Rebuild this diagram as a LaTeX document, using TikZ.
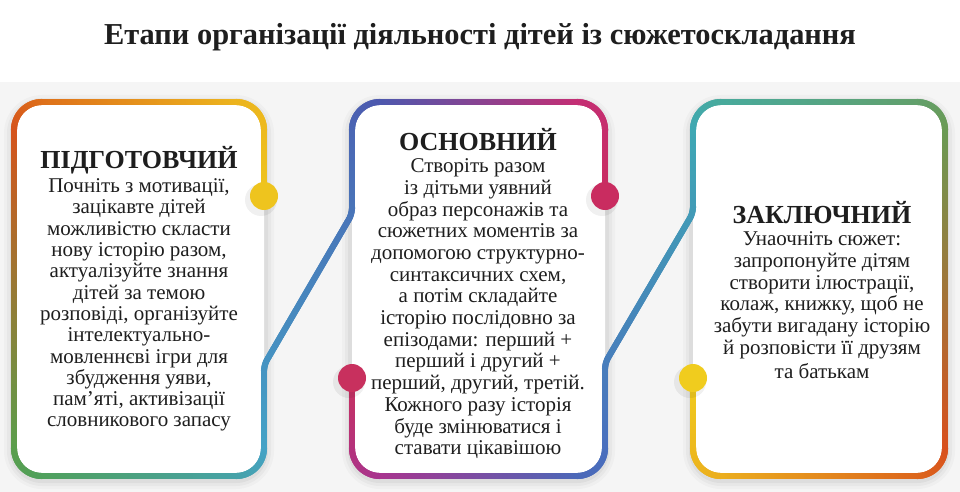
\documentclass[tikz,border=0pt]{standalone}
\usepackage{fontspec}
\setmainfont{Liberation Serif}
\usepackage{graphicx}
\usetikzlibrary{decorations.markings}
% colours along the two strokes
\definecolor{yelA}{HTML}{EEC41E}
\definecolor{yelB}{HTML}{ECB41E}
\definecolor{oraA}{HTML}{DE701A}
\definecolor{redA}{HTML}{D5541C}
\definecolor{grnA}{HTML}{5A9E4C}
\definecolor{grnB}{HTML}{50A05C}
\definecolor{tealA}{HTML}{46A2A8}
\definecolor{tealB}{HTML}{45A2C6}
\definecolor{bluB}{HTML}{4A66B4}
\definecolor{bluC}{HTML}{4D58AE}
\definecolor{crmA}{HTML}{C42E74}
\definecolor{crmB}{HTML}{C92C60}
\definecolor{crmC}{HTML}{C8305E}
\definecolor{magA}{HTML}{A8348E}
\definecolor{bluD}{HTML}{4B68B8}
\definecolor{bluE}{HTML}{4A70BE}
\definecolor{tealC}{HTML}{3FA8B4}
\definecolor{tealD}{HTML}{48AA9C}
\definecolor{grnC}{HTML}{62A06C}
\definecolor{grnD}{HTML}{6A9A54}
\definecolor{redB}{HTML}{D8501E}
\definecolor{oraB}{HTML}{DC661C}
\definecolor{yelC}{HTML}{EBAE1E}
\definecolor{yelD}{HTML}{F0CC1E}
\definecolor{bgGray}{HTML}{F5F5F5}
\definecolor{ink}{HTML}{1E1E1E}
\tikzset{
    grad/.style 2 args={
        decorate,
        decoration={
            markings,
            mark=between positions 0 and 1 step 1pt with
            {
                \pgfmathtruncatemacro\gp{100*(\pgfkeysvalueof{/pgf/decoration/mark info/distance from start}/\pgfdecoratedpathlength)}
                \draw[#2!\gp!#1, line width=6pt] (-1.2pt,0) -- (1.2pt,0);
            }
        }
    },
    roundc/.style={rounded corners=28pt},
    kink/.style={rounded corners=6pt},
    panel/.style={fill=white, rounded corners=28pt},
    head/.style={font=\bfseries\fontsize{26}{28}\selectfont, text=ink, inner sep=0pt},
    body/.style={font=\fontsize{21}{21.7}\selectfont, text=ink, align=center, inner sep=0pt, anchor=north},
}

\begin{document}
\begin{tikzpicture}[x=1pt, y=-1pt]
    \useasboundingbox (0,0) rectangle (960,492);
    \fill[white] (0,0) rectangle (960,82);
    \fill[bgGray] (0,82) rectangle (960,492);
    \node[font=\bfseries\fontsize{30.4}{32}\selectfont, text=ink, anchor=base] (title) at (480,45) {Етапи організації діяльності дітей із сюжетоскладання};
    % soft shadows and white panels
    \foreach \px/\qx in {14/264, 352/605, 693/945} {
        \foreach \s/\o in {10/0.025, 7/0.03, 4/0.04}
            \fill[black, opacity=\o, rounded corners=28pt+\s] (\px-\s,102-\s+3) rectangle (\qx+\s,476+\s+3);
        \path[panel] (\px,102) rectangle (\qx,476);
    }
    % first stroke: yellow dot -> round panel 1 -> crimson dot
    \path[grad={yelA}{yelB}, roundc] (264,196) -- (264,102) -- (236,102);
    \path[grad={yelB}{oraA}] (236,102) -- (42,102);
    \path[grad={oraA}{redA}, roundc] (42,102) -- (14,102) -- (14,130);
    \path[grad={redA}{grnA}] (14,130) -- (14,448);
    \path[grad={grnA}{grnB}, roundc] (14,448) -- (14,476) -- (42,476);
    \path[grad={grnB}{tealA}] (42,476) -- (236,476);
    \path[grad={tealA}{tealB}, roundc] (236,476) -- (264,476) -- (264,448);
    \path[grad={tealB}{bluB}, kink] (264,448) -- (264,365) -- (352,214) -- (352,130);
    \path[grad={bluB}{bluC}, roundc] (352,130) -- (352,102) -- (380,102);
    \path[grad={bluC}{crmA}] (380,102) -- (577,102);
    \path[grad={crmA}{crmB}, roundc] (577,102) -- (605,102) -- (605,196);
    % second stroke: crimson dot -> round panel 3 -> yellow dot
    \path[grad={crmC}{magA}, roundc] (352,378) -- (352,476) -- (380,476);
    \path[grad={magA}{bluD}] (380,476) -- (577,476);
    \path[grad={bluD}{bluE}, roundc] (577,476) -- (605,476) -- (605,448);
    \path[grad={bluE}{tealC}, kink] (605,448) -- (605,363) -- (693,213) -- (693,130);
    \path[grad={tealC}{tealD}, roundc] (693,130) -- (693,102) -- (721,102);
    \path[grad={tealD}{grnC}] (721,102) -- (917,102);
    \path[grad={grnC}{grnD}, roundc] (917,102) -- (945,102) -- (945,130);
    \path[grad={grnD}{redB}] (945,130) -- (945,448);
    \path[grad={redB}{oraB}, roundc] (945,448) -- (945,476) -- (917,476);
    \path[grad={oraB}{yelC}] (917,476) -- (721,476);
    \path[grad={yelC}{yelD}, roundc] (721,476) -- (693,476) -- (693,378);
    % dots
    \foreach \dx/\dy/\dc [count=\i] in {264/196/yelA, 605/196/crmB, 352/378/crmC, 693/378/yelD} {
        \fill[black, opacity=0.06] (\dx-3,\dy+4) circle (16);
        \fill[\dc] (\dx,\dy) coordinate (dot\i) circle (14);
    }
    % texts
    \node[head] (h1) at (139,160) {ПІДГОТОВЧИЙ};
    \node[body, font=\fontsize{21}{21.3}\selectfont] (t1) at (139,178.5) {Почніть з мотивації,\\зацікавте дітей\\можливістю скласти\\нову історію разом,\\актуалізуйте знання\\дітей за темою\\розповіді, організуйте\\інтелектуально-\\мовленнєві ігри для\\збудження уяви,\\пам'яті, активізації\\словникового запасу};
    \node[head] (h2) at (478,140) {ОСНОВНИЙ};
    \node[body] (t2) at (478,158.5) {Створіть разом\\із дітьми уявний\\образ персонажів та\\сюжетних моментів за\\допомогою структурно-\\синтаксичних схем,\\а потім складайте\\історію послідовно за\\епізодами: перший +\\перший і другий +\\перший, другий, третій.\\Кожного разу історія\\буде змінюватися і\\ставати цікавішою};
    \node[head] (h3) at (822,213) {ЗАКЛЮЧНИЙ};
    \node[body] (t3) at (822,231.5) {Унаочніть сюжет:\\запропонуйте дітям\\створити ілюстрації,\\колаж, книжку, щоб не\\забути вигадану історію\\й розповісти її друзям\\[3pt]та батькам};
\end{tikzpicture}
\end{document}
